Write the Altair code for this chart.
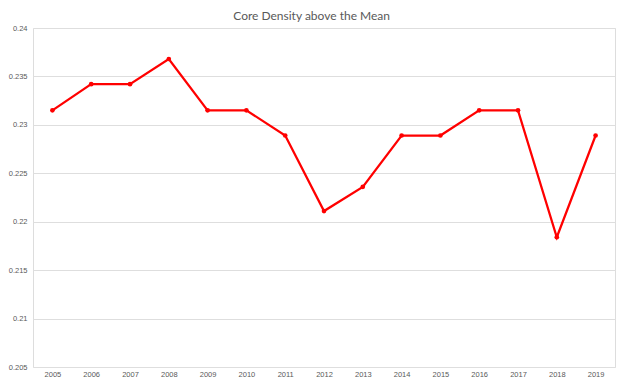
import altair as alt
import pandas as pd

years = [str(y) for y in range(2005, 2020)]
values = [0.2315, 0.2342, 0.2342, 0.2368, 0.2315, 0.2315, 0.2289, 0.2211,
          0.2236, 0.2289, 0.2289, 0.2315, 0.2315, 0.2184, 0.2289]
y_ticks = [0.205, 0.21, 0.215, 0.22, 0.225, 0.23, 0.235, 0.24]

df = pd.DataFrame({"year": years, "value": values})

tick_font = "Liberation Sans"

base = alt.Chart(df).encode(
    x=alt.X("year:O", scale=alt.Scale(type="point", padding=0.5),
            axis=alt.Axis(title=None, labelAngle=0, ticks=False, domain=False,
                          grid=False, labelPadding=3, labelFontSize=7.5,
                          labelColor="#595959", labelFont=tick_font)),
    y=alt.Y("value:Q", scale=alt.Scale(domain=[0.205, 0.24], nice=False, zero=False),
            axis=alt.Axis(title=None, values=y_ticks,
                          format=".3~f", ticks=False, domain=False, grid=True,
                          gridColor="#dedede", gridWidth=1, labelPadding=6,
                          labelFontSize=7.5, labelColor="#595959", labelFont=tick_font)),
)

line = base.mark_line(color="#ff0000", strokeWidth=2.25)
pts = base.mark_point(color="#ff0000", filled=True, size=22, opacity=1)

chart = (line + pts).properties(
    width=582, height=339,
    title=alt.Title("Core Density above the Mean", fontSize=12, font="Lato",
                    fontWeight="normal", color="#595959", offset=1,
                    anchor="middle", frame="bounds"),
    autosize=alt.AutoSizeParams(type="none"),
    padding={"left": 25, "top": 20, "right": 1, "bottom": 10},
).configure_view(stroke=None).configure(background="white")

chart.save("out.html", embed_options={"renderer": "svg", "actions": False})
